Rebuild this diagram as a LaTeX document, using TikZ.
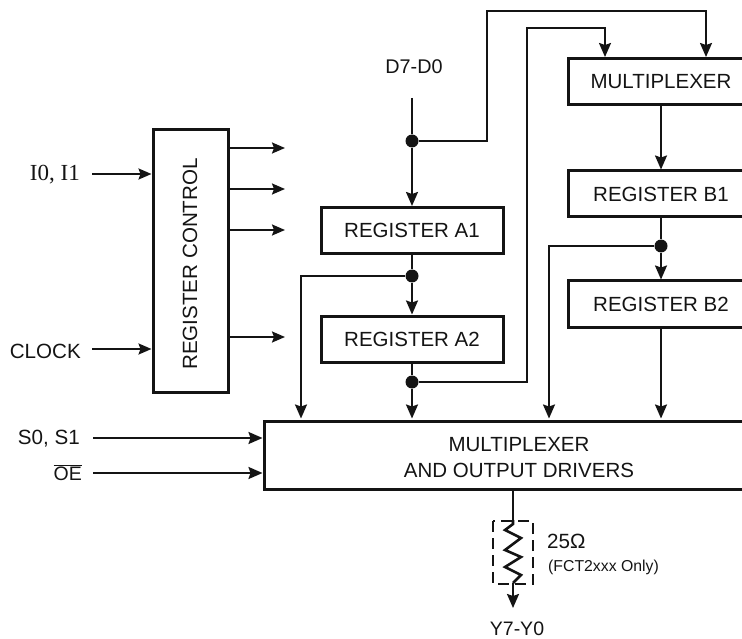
\documentclass[tikz,border=0pt]{standalone}
\usepackage{fontspec}
\setmainfont{Liberation Sans}
\newfontfamily\serifx{Liberation Serif}
\usetikzlibrary{arrows.meta,calc}
\tikzset{
  x=1pt,y=-1pt,
  lbl/.style={inner sep=0pt,font=\fontsize{20.6}{24}\selectfont,text=black!92},
  block/.style={draw=black!92,line width=3pt,fill=white,inner sep=0pt,align=center,
    font=\fontsize{20.5}{26}\selectfont,text=black!92},
  wire/.style={draw=black!92,line width=2pt},
  arr/.style={wire,-{Stealth[length=14pt,width=12pt,inset=2pt]}},
  smallarr/.style={wire,-{Stealth[length=13pt,width=11pt,inset=2pt]}},
  jdot/.style={circle,fill=black!92,inner sep=0pt,minimum size=13pt},
}
\begin{document}
\begin{tikzpicture}
\useasboundingbox (0,0) rectangle (742,639);
\clip (0,0) rectangle (742,639);
% blocks
\node[block,minimum width=75pt,minimum height=262pt] (rc) at (190.5,261) {};
\node[lbl,rotate=90] (rct) at (190,264) {REGISTER CONTROL};
\node[block,minimum width=182pt,minimum height=46pt] (a1) at (412,230.5) {REGISTER A1};
\node[block,minimum width=182pt,minimum height=46pt] (a2) at (412,339) {REGISTER A2};
\node[block,minimum width=186pt,minimum height=46pt] (mt) at (661,82) {MULTIPLEXER};
\node[block,minimum width=186pt,minimum height=46pt] (b1) at (661,194) {REGISTER B1};
\node[block,minimum width=186pt,minimum height=46pt] (b2) at (661,304) {REGISTER B2};
\node[block,minimum width=510pt,minimum height=68pt] (mx) at (519,455) {\rule{0pt}{19pt}MULTIPLEXER\\AND OUTPUT DRIVERS};
% junctions
\node[jdot] (d0) at (412,141) {};
\node[jdot] (d1) at (412,276) {};
\node[jdot] (d2) at (412,382) {};
\node[jdot] (d3) at (661,246) {};
% labels
\node[lbl,anchor=east,font=\serifx\fontsize{23}{26}\selectfont] (i0) at (80,175) {I0, I1};
\node[lbl,anchor=east] (clk) at (81,351) {CLOCK};
\node[lbl,anchor=east] (s0) at (80,439) {S0, S1};
\node[lbl,anchor=east,font=\fontsize{19.5}{23}\selectfont] (oe) at (82,473) {$\overline{\mbox{OE}}$};
\node[lbl,font=\fontsize{19.8}{23}\selectfont] (dd) at (414,67) {D7-D0};
\node[lbl,font=\fontsize{19.5}{23}\selectfont] (yy) at (517,629) {Y7-Y0};
\node[lbl,anchor=west] (ohm) at (547,541) {25Ω};
\node[lbl,anchor=west,font=\fontsize{15.8}{18}\selectfont] (fct) at (548,567) {(FCT2xxx Only)};
% free ends and routing points
\coordinate (i0a) at (92,174);
\coordinate (clka) at (92,349);
\coordinate (s0a) at (93,438);
\coordinate (oea) at (93,473);
\coordinate (dda) at (412,98);
\coordinate (o1) at (285,148);
\coordinate (o2) at (285,189);
\coordinate (o3) at (285,230);
\coordinate (o4) at (285,337);
\coordinate (r1) at (513,520);
\coordinate (r2) at (513,583);
\coordinate (yya) at (513,608);
\coordinate (ta) at (412,418.5);
\coordinate (tb) at (301,418.5);
\coordinate (tc) at (661,418.5);
\coordinate (td) at (549,418.5);
\coordinate (te) at (706,57);
\coordinate (tf) at (605,57);
\coordinate (mo) at (513,489);
% inputs
\draw[smallarr] (i0a) -- (i0a -| rc.west);
\draw[smallarr] (clka) -- (clka -| rc.west);
\draw[arr] (s0a) -- (s0a -| mx.west);
\draw[arr] (oea) -- (oea -| mx.west);
% control outputs
\draw[smallarr] (o1 -| rc.east) -- (o1);
\draw[smallarr] (o2 -| rc.east) -- (o2);
\draw[smallarr] (o3 -| rc.east) -- (o3);
\draw[smallarr] (o4 -| rc.east) -- (o4);
% A path
\draw[wire] (dda) -- (d0);
\draw[arr] (d0) -- (a1.north);
\draw[wire] (a1.south) -- (d1);
\draw[arr] (d1) -- (a2.north);
\draw[wire] (a2.south) -- (d2);
\draw[arr] (d2) -- (ta);
\draw[arr] (d1) -- (301,276) -- (tb);
% cross routes
\draw[arr] (d0) -- (487,141) -- (487,11) -- (706,11) -- (te);
\draw[arr] (d2) -- (527,382) -- (527,28) -- (605,28) -- (tf);
% B path
\draw[arr] (mt.south) -- (b1.north);
\draw[wire] (b1.south) -- (d3);
\draw[arr] (d3) -- (b2.north);
\draw[arr] (b2.south) -- (tc);
\draw[arr] (d3) -- (549,246) -- (td);
% output
\draw[wire] (mo) -- (r1);
\draw[wire,line width=2.6pt,line join=miter] (r1) -- ++(0,4) -- ++(-8,6) -- ++(16,8) -- ++(-16,12) -- ++(16,7) -- ++(-16,10) -- ++(16,8) -- (r2);
\draw[arr] (r2) -- (yya);
\draw[draw=black!92,line width=2pt,dash pattern=on 11pt off 6pt] (493,521) rectangle (533,584);
\end{tikzpicture}
\end{document}
